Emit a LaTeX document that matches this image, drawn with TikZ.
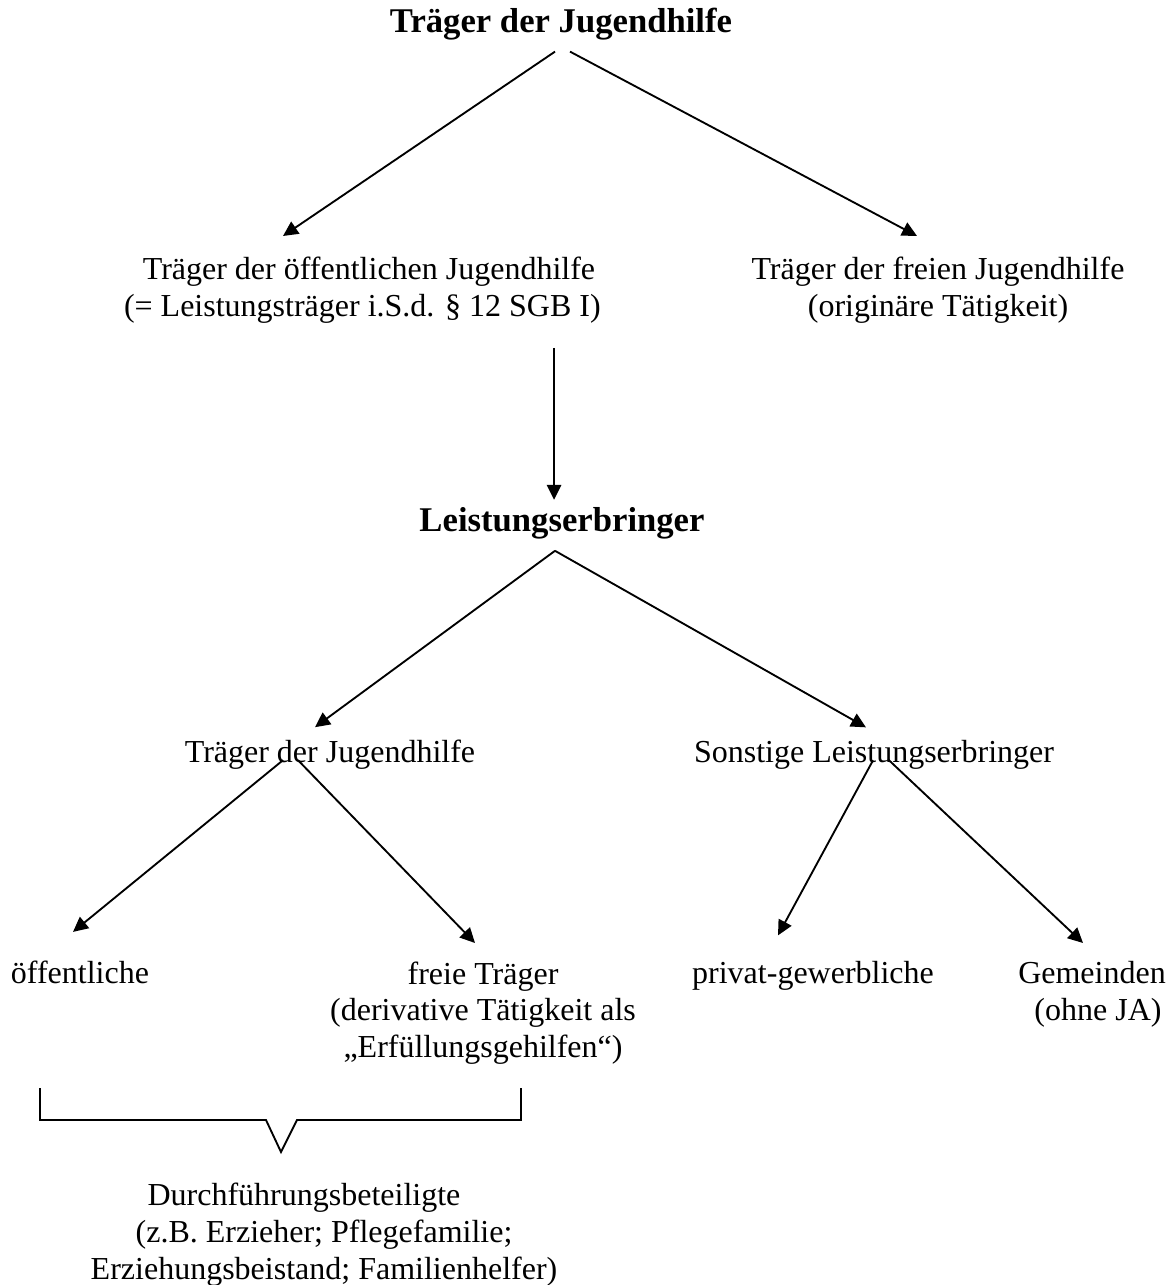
\documentclass[tikz,border=0pt]{standalone}
\usepackage{fontspec}
\setmainfont{Liberation Serif}
\usetikzlibrary{arrows.meta,calc}
\begin{document}
\begin{tikzpicture}[x=0.375pt,y=-0.375pt,
  txt/.style={inner sep=0pt,font=\fontsize{12}{13.8}\selectfont},
  mtxt/.style={txt,align=center},
  head/.style={inner sep=0pt,font=\fontsize{13}{15}\selectfont\bfseries},
  arr/.style={-{Triangle[length=5.6pt,width=5.4pt]},line width=0.7pt},
  brace/.style={line width=0.7pt,line join=miter}]
\useasboundingbox (0,0) rectangle (1173,1285);
% nodes
\node[head,anchor=base] (t0) at (561,33) {Träger der Jugendhilfe};
\node[mtxt] (t1) at (369,290.5) {Träger der öffentlichen Jugendhilfe\\(= Leistungsträger i.S.d. § 12 SGB I)\hspace*{5pt}};
\node[mtxt] (t2) at (938,290.5) {Träger der freien Jugendhilfe\\(originäre Tätigkeit)};
\node[head,anchor=base] (le) at (562,532) {Leistungserbringer};
\node[txt,anchor=base] (t3) at (330,762) {Träger der Jugendhilfe};
\node[txt,anchor=base] (t4) at (874,762) {Sonstige Leistungserbringer};
\node[txt,anchor=base] (t5) at (80,983) {öffentliche};
\node[mtxt] (t6) at (483,1013) {freie Träger\\(derivative Tätigkeit als\hspace*{8pt}\\„Erfüllungsgehilfen“)};
\node[txt,anchor=base] (t7) at (813,983) {privat-gewerbliche};
\node[mtxt] (t8) at (1098,994) {Gemeinden\hspace*{4.5pt}\\(ohne JA)};
\node[mtxt] (t9) at (324,1234.5) {Durchführungsbeteiligte\hspace*{15pt}\\(z.B. Erzieher; Pflegefamilie;\hspace*{8pt}\\Erziehungsbeistand; Familienhelfer)};
% connectors
\draw[arr] ($(t0)+(-6,27)$) -- ($(t1)+(-86,-54.5)$);
\draw[arr] ($(t0)+(9,27)$) -- ($(t2)+(-21,-54.5)$);
\draw[arr] ($(t1)+(185,57.5)$) -- ($(le)+(-8,-24)$);
\draw[arr] ($(le)+(-7,27)$) -- ($(t3)+(-15,-27)$);
\draw[arr] ($(le)+(-7,27)$) -- ($(t4)+(-8,-27)$);
\draw[arr] ($(t3)+(-47,6)$) -- ($(t5)+(-7,-40)$);
\draw[arr] ($(t3)+(-32,6)$) -- ($(t6)+(-8,-70)$);
\draw[arr] ($(t4)+(-1,6)$) -- ($(t7)+(-35,-40)$);
\draw[arr] ($(t4)+(14,5)$) -- ($(t8)+(-15,-51)$);
% bracket
\draw[brace] (40,1088) -- (40,1120) -- (266,1120) -- (281,1152) -- (297,1120) -- (521,1120) -- (521,1088);
\end{tikzpicture}
\end{document}
